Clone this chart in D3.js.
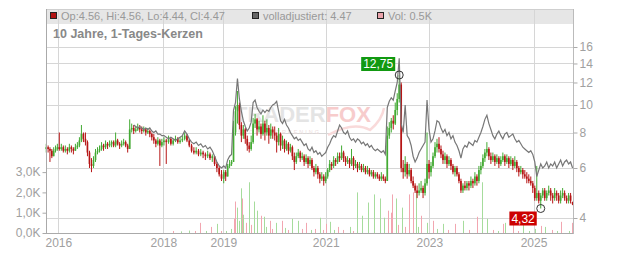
<!DOCTYPE html>
<html>
<head>
<meta charset="utf-8">
<script src="https://cdn.jsdelivr.net/npm/d3@7"></script>
<style>
  body { margin: 0; background: #fff; }
  svg { display: block; font-family: "Liberation Sans", Arial, sans-serif; }
</style>
</head>
<body>
<svg id="chart" width="632" height="253"></svg>
<script>
// one candle per two weeks, starting 2015-10-02: [open, high, low, close]
const candles2015 = [[7.0,7.3,6.8,7.1],[7.1,7.2,6.8,7.0],[7.0,7.1,6.3,6.9],[6.9,7.0,6.5,6.6],[6.6,7.1,6.6,6.9],[6.9,7.2,6.8,7.0],[7.0,7.3,6.9,7.1]]
const candles2016 = [[7.1,8.0,6.9,7.0],[7.0,7.3,6.9,7.1],[7.1,7.2,6.8,6.9],[6.9,7.2,6.8,7.0],[7.0,7.1,6.7,6.9],[6.9,7.3,6.8,7.1],[7.1,7.2,6.8,7.0],[7.0,7.1,6.7,6.9],[6.9,7.3,6.9,7.1],[7.1,7.4,7.0,7.2],[7.2,7.7,7.1,7.5],[7.5,8.5,7.4,7.9],[7.9,8.0,7.4,7.6],[7.6,8.0,7.2,7.4],[7.4,7.5,6.6,6.8],[6.8,6.9,6.0,6.2],[6.2,6.5,5.8,6.1],[6.1,6.6,6.0,6.4],[6.4,7.0,6.3,6.8],[6.8,7.1,6.7,6.9],[6.9,7.2,6.8,7.0],[7.0,7.4,6.9,7.2],[7.2,7.3,6.9,7.1],[7.1,7.5,7.0,7.3],[7.3,7.4,7.0,7.2],[7.2,7.5,7.1,7.3]]
const candles2017 = [[7.3,7.5,7.1,7.4],[7.4,7.5,7.1,7.2],[7.2,8.0,7.1,7.5],[7.5,7.6,7.2,7.3],[7.3,7.4,7.0,7.2],[7.2,7.5,7.1,7.3],[7.3,7.6,7.2,7.4],[7.4,7.5,7.1,7.2],[7.2,7.3,6.8,7.0],[7.0,8.9,7.0,8.2],[8.2,8.6,8.0,8.3],[8.3,8.5,7.9,8.1],[8.1,8.4,8.0,8.2],[8.2,8.6,8.1,8.3],[8.3,8.5,8.0,8.2],[8.2,8.4,7.9,8.1],[8.1,8.4,8.0,8.2],[8.2,8.3,7.8,8.0],[8.0,8.3,7.9,8.1],[8.1,8.2,7.7,7.9],[7.9,8.0,7.5,7.7],[7.7,7.9,7.3,7.5],[7.5,7.6,7.1,7.3],[7.3,7.7,7.2,7.5],[7.5,7.6,6.1,7.2],[7.2,7.6,7.1,7.4]]
const candles2018 = [[7.4,7.7,7.2,7.5],[7.5,7.6,6.2,7.4],[7.4,7.8,7.3,7.6],[7.6,7.7,7.2,7.3],[7.3,7.6,7.2,7.5],[7.5,7.8,7.4,7.6],[7.6,7.7,7.3,7.4],[7.4,7.7,7.3,7.5],[7.5,7.8,7.4,7.6],[7.6,8.0,7.5,7.8],[7.8,7.9,7.4,7.5],[7.5,7.6,7.1,7.2],[7.2,7.3,6.8,6.9],[6.9,7.1,6.7,6.8],[6.8,7.1,6.7,6.9],[6.9,7.0,6.6,6.7],[6.7,7.0,6.6,6.8],[6.8,6.9,6.5,6.7],[6.7,6.8,6.4,6.6],[6.6,6.9,6.5,6.7],[6.7,6.8,6.4,6.5],[6.5,6.7,6.3,6.6],[6.6,6.6,6.1,6.2],[6.2,6.3,5.8,6.0],[6.0,6.1,5.6,5.7],[5.7,5.9,5.4,5.5]]
const candles2019 = [[5.5,5.9,5.3,5.8],[5.8,5.9,5.4,5.6],[5.6,6.2,5.6,6.1],[6.1,6.4,6.0,6.2],[6.2,6.4,6.1,6.3],[6.3,8.8,6.3,8.0],[8.0,9.9,7.8,9.5],[9.5,11.2,8.6,10.0],[10.0,10.2,8.2,8.5],[8.5,8.7,7.4,7.8],[7.8,8.5,7.6,8.2],[8.2,8.3,7.3,7.6],[7.6,7.8,6.9,7.2],[7.2,7.4,6.8,7.0],[7.0,7.8,6.9,7.4],[7.4,9.0,7.3,8.6],[8.6,9.3,8.3,8.9],[8.9,9.0,7.8,8.2],[8.2,8.8,8.0,8.4],[8.4,8.6,7.6,7.9],[7.9,9.2,7.8,8.6],[8.6,8.8,7.5,8.0],[8.0,8.9,7.8,8.3],[8.3,8.5,7.3,7.8],[7.8,8.6,7.6,8.2],[8.2,8.4,7.6,8.0]]
const candles2020 = [[8.0,8.4,7.5,7.8],[7.8,8.0,6.8,7.4],[7.4,8.3,7.2,7.9],[7.9,8.0,6.9,7.2],[7.2,7.8,7.0,7.5],[7.5,7.6,6.8,7.0],[7.0,7.5,6.9,7.3],[7.3,7.4,6.7,6.9],[6.9,7.3,6.8,7.1],[7.1,7.2,6.4,6.6],[6.6,6.8,5.9,6.3],[6.3,6.8,6.2,6.6],[6.6,7.0,6.5,6.8],[6.8,6.9,6.3,6.5],[6.5,6.8,6.4,6.6],[6.6,6.7,6.1,6.3],[6.3,6.7,6.2,6.5],[6.5,6.6,6.0,6.2],[6.2,6.6,6.1,6.4],[6.4,6.5,5.9,6.0],[6.0,6.1,5.6,5.8],[5.8,6.2,5.7,6.0],[6.0,6.1,5.5,5.7],[5.7,5.8,5.3,5.5],[5.5,5.8,5.4,5.6],[5.6,5.7,5.2,5.4]]
const candles2021 = [[5.4,5.8,5.3,5.6],[5.6,6.0,5.5,5.9],[5.9,6.4,5.8,6.2],[6.2,6.3,5.9,6.1],[6.1,6.6,6.0,6.4],[6.4,6.5,6.1,6.3],[6.3,6.8,6.2,6.6],[6.6,6.8,6.3,6.5],[6.5,7.2,6.4,6.8],[6.8,6.9,6.3,6.5],[6.5,6.6,6.1,6.3],[6.3,6.6,6.2,6.4],[6.4,6.5,6.0,6.2],[6.2,7.0,6.1,6.5],[6.5,6.6,5.9,6.1],[6.1,6.4,6.0,6.2],[6.2,6.3,5.8,6.0],[6.0,6.3,5.9,6.1],[6.1,6.2,5.8,5.9],[5.9,6.2,5.8,6.0],[6.0,6.1,5.7,5.8],[5.8,6.1,5.7,5.9],[5.9,6.0,5.6,5.7],[5.7,5.9,5.6,5.8],[5.8,5.9,5.5,5.6],[5.6,5.8,5.5,5.7]]
const candles2022 = [[5.7,5.8,5.5,5.6],[5.6,5.7,5.4,5.5],[5.5,5.8,5.4,5.6],[5.6,5.7,5.4,5.5],[5.5,5.6,5.3,5.4],[5.4,8.4,5.4,7.8],[7.8,8.7,7.6,8.3],[8.3,9.0,8.0,8.8],[8.8,9.2,8.2,8.6],[8.6,10.2,8.5,9.6],[9.6,11.0,9.2,10.5],[10.5,12.75,10.2,11.8],[11.8,12.0,5.8,6.0],[6.0,6.4,5.5,5.8],[5.8,6.6,5.6,6.2],[6.2,6.3,5.5,5.7],[5.7,6.2,5.6,5.9],[5.9,6.0,5.3,5.4],[5.4,5.6,5.1,5.2],[5.2,5.3,4.9,5.0],[5.0,5.2,4.7,4.9],[4.9,5.3,4.8,5.0],[5.0,5.4,4.9,5.1],[5.1,5.2,4.7,4.9],[4.9,5.5,4.8,5.3],[5.3,8.0,5.2,6.2]]
const candles2023 = [[6.2,6.4,5.5,5.8],[5.8,6.3,5.6,6.1],[6.1,6.8,6.0,6.6],[6.6,7.4,6.5,7.1],[7.1,7.6,6.8,7.3],[7.3,7.7,6.8,7.0],[7.0,7.2,6.5,6.7],[6.7,6.9,6.2,6.4],[6.4,6.8,6.2,6.6],[6.6,6.7,6.0,6.2],[6.2,6.6,6.1,6.4],[6.4,6.5,5.9,6.1],[6.1,6.2,5.7,5.8],[5.8,6.1,5.6,6.0],[6.0,6.1,5.6,5.7],[5.7,5.8,5.3,5.4],[5.4,5.5,4.9,5.0],[5.0,5.3,4.9,5.2],[5.2,5.4,5.0,5.1],[5.1,5.4,5.0,5.3],[5.3,5.4,5.0,5.2],[5.2,5.6,5.1,5.4],[5.4,5.5,5.1,5.3],[5.3,5.8,5.2,5.6],[5.6,5.7,5.2,5.4],[5.4,6.1,5.3,5.9]]
const candles2024 = [[5.9,6.3,5.7,6.1],[6.1,6.7,6.0,6.5],[6.5,7.0,6.3,6.8],[6.8,7.4,6.6,7.0],[7.0,7.1,6.4,6.6],[6.6,6.8,6.2,6.4],[6.4,6.8,6.3,6.6],[6.6,6.7,6.1,6.3],[6.3,6.7,6.2,6.5],[6.5,6.6,6.0,6.2],[6.2,6.6,6.1,6.4],[6.4,6.8,6.3,6.6],[6.6,6.7,6.1,6.3],[6.3,6.7,6.2,6.5],[6.5,6.6,6.0,6.2],[6.2,6.6,6.1,6.4],[6.4,6.5,5.9,6.1],[6.1,6.6,6.0,6.3],[6.3,6.4,5.8,6.0],[6.0,6.1,5.6,5.8],[5.8,6.1,5.7,5.9],[5.9,6.0,5.5,5.7],[5.7,5.9,5.5,5.6],[5.6,5.8,5.3,5.5],[5.5,5.7,5.3,5.4],[5.4,5.6,5.2,5.3]]
const candles2025 = [[5.3,5.4,4.9,5.1],[5.1,5.2,4.6,4.7],[4.7,6.1,4.6,4.9],[4.9,5.0,4.5,4.6],[4.6,4.9,4.32,4.8],[4.8,5.1,4.7,5.0],[5.0,5.1,4.6,4.7],[4.7,5.0,4.6,4.9],[4.9,5.2,4.8,5.0],[5.0,5.1,4.6,4.8],[4.8,4.9,4.5,4.7],[4.7,5.1,4.6,4.9],[4.9,5.0,4.6,4.8],[4.8,4.9,4.5,4.6],[4.6,5.0,4.5,4.8],[4.8,5.1,4.7,4.9],[4.9,5.0,4.6,4.7],[4.7,4.8,4.5,4.6],[4.6,4.9,4.5,4.8],[4.8,4.9,4.5,4.6],[4.56,4.56,4.44,4.47]]

// "volladjustiert" line, same two-week steps, begins mid 2017
const adjusted2017 = [8.5,8.4,8.3,8.4,8.3,8.2,8.3,8.2,8.3,8.1,8.0,8.1,7.9,7.9,7.8]
const adjusted2018 = [7.8,7.7,7.6,7.7,7.6,7.5,7.6,7.7,7.8,8.1,7.9,7.6,7.4,7.3,7.4,7.2,7.3,7.1,7.2,7.0,7.1,6.9,6.6,6.3,6.1,6.0]
const adjusted2019 = [6.1,6.0,6.4,6.6,6.7,9.6,10.2,12.4,10.5,9.5,8.8,8.4,8.1,8.3,8.7,10.2,10.4,9.8,9.5,9.3,9.6,9.4,9.6,9.5,9.8,10.0]
const adjusted2020 = [10.1,10.3,9.5,8.8,8.6,8.9,8.5,8.3,8.0,7.8,7.6,7.7,7.5,7.6,7.4,7.2,7.3,7.0,6.9,7.1,6.8,6.9,6.7,6.8,6.6,6.7]
const adjusted2021 = [6.8,7.1,7.3,7.6,7.8,7.7,8.1,8.5,8.3,8.0,7.9,8.1,7.7,7.5,7.6,7.4,7.6,7.5,7.3,7.4,7.2,7.3,7.1,7.2,7.0,6.9]
const adjusted2022 = [7.0,6.9,6.8,6.9,6.7,9.8,10.3,10.6,10.4,11.2,12.0,14.6,8.6,8.0,10.0,7.8,7.6,7.2,6.6,6.3,6.5,6.8,7.0,7.2,7.4,10.4]
const adjusted2023 = [8.2,7.4,7.6,8.1,8.8,8.7,8.3,8.0,8.2,7.8,8.0,7.6,7.8,7.4,7.2,6.9,6.5,7.0,7.2,7.1,7.4,7.3,7.2,7.5,7.4,7.7]
const adjusted2024 = [8.0,8.4,8.9,9.2,8.6,8.2,7.8,7.6,7.9,8.1,7.8,7.6,7.9,8.0,7.7,7.8,7.9,7.6,7.4,7.5,7.3,7.1,7.0,6.9,6.8,6.9]
const adjusted2025 = [6.7,6.3,5.6,5.9,6.2,6.0,6.1,6.3,6.0,6.2,6.1,6.3,6.0,6.2,6.4,6.1,6.3,6.4,6.2,6.3,6.0]

// volume in thousands: [day, volume, 1 = up day]
const volumes = [
  ['2018-03-01',0.1,0],['2018-04-20',0.08,1],['2018-06-08',0.12,1],['2018-07-10',0.1,0],['2018-08-12',0.5,0],['2018-09-15',0.1,1],['2018-10-19',0.3,0],['2018-11-24',0.45,1],['2018-12-20',0.1,0],
  ['2019-01-20',0.1,1],['2019-02-28',0.2,1],['2019-03-15',0.7,0],['2019-03-28',1.55,0],['2019-04-11',1.25,1],['2019-04-25',0.6,1],['2019-05-10',2.2,1],['2019-05-18',1.7,0],['2019-05-24',0.9,1],['2019-06-10',0.5,0],['2019-07-01',2.5,1],['2019-07-20',0.4,0],['2019-08-10',1.55,1],['2019-09-02',1.1,1],['2019-09-25',0.85,0],['2019-10-15',0.8,1],['2019-11-05',0.3,1],['2019-11-27',0.6,0],['2019-12-15',0.2,0],
  ['2020-01-10',0.5,1],['2020-02-22',0.6,0],['2020-03-20',0.25,1],['2020-04-10',0.15,0],['2020-05-05',0.7,1],['2020-06-17',0.6,1],['2020-07-15',0.2,0],['2020-08-13',0.5,0],['2020-09-20',0.15,1],['2020-10-15',0.2,0],['2020-11-21',0.75,1],['2020-12-10',0.15,0],
  ['2021-01-04',0.45,0],['2021-02-01',0.55,1],['2021-03-01',0.15,1],['2021-03-29',0.3,0],['2021-05-05',0.15,0],['2021-06-22',0.3,1],['2021-07-15',0.1,0],['2021-08-10',2.0,1],['2021-09-16',0.85,1],['2021-10-29',1.5,1],['2021-12-04',1.9,1],
  ['2022-01-16',1.7,1],['2022-02-19',0.75,1],['2022-03-18',1.1,0],['2022-04-08',1.0,0],['2022-04-16',1.9,0],['2022-05-14',1.7,1],['2022-05-28',0.4,0],['2022-06-26',1.25,1],['2022-07-15',0.3,0],['2022-08-08',1.9,0],['2022-09-06',2.0,0],['2022-09-26',2.0,1],['2022-10-15',0.3,1],['2022-11-01',0.85,0],['2022-12-14',0.5,1],
  ['2023-01-25',0.6,0],['2023-02-25',0.2,1],['2023-04-06',0.45,1],['2023-05-10',0.15,0],['2023-06-29',0.45,0],['2023-08-24',0.6,1],['2023-10-10',0.15,0],['2023-12-01',0.8,0],
  ['2024-01-04',2.5,1],['2024-02-10',0.7,1],['2024-03-20',0.15,0],['2024-04-25',0.1,1],['2024-06-02',0.45,0],['2024-06-16',0.5,1],['2024-08-12',0.9,0],['2024-09-15',0.1,0],['2024-10-22',0.45,1],['2024-12-01',0.1,1],
  ['2025-01-15',0.2,1],['2025-02-26',0.35,0],['2025-03-26',0.3,1],['2025-05-10',0.15,0],['2025-06-15',0.1,1],['2025-07-17',0.55,0],['2025-09-10',0.1,1],['2025-10-01',0.5,0]
]

const priceTicks = [4, 6, 8, 10, 12, 14, 16]
const volTicks = [0, 1, 2, 3]
const yearTicks = [2016, 2018, 2019, 2021, 2023, 2025]

const candles = [].concat(candles2015, candles2016, candles2017, candles2018, candles2019,
  candles2020, candles2021, candles2022, candles2023, candles2024, candles2025)
const adjusted = [].concat(adjusted2017, adjusted2018, adjusted2019, adjusted2020, adjusted2021,
  adjusted2022, adjusted2023, adjusted2024, adjusted2025)

const firstDay = new Date(2015, 9, 2)
const dayOf = i => d3.timeDay.offset(firstDay, i * 14)
const parseDay = d3.timeParse('%Y-%m-%d')

const plotLeft = 46, plotRight = 573, plotTop = 9, plotBottom = 233

const svg = d3.select('#chart')

// the time axis of the source is trading-day based, so the years are not evenly spaced
const x = d3.scaleTime()
  .domain([new Date(2015, 8, 30), new Date(2016, 0, 1), new Date(2018, 0, 1), new Date(2019, 0, 1),
    new Date(2021, 0, 1), new Date(2023, 0, 1), new Date(2025, 0, 1), new Date(2025, 9, 6)])
  .range([plotLeft, 58.3, 163.3, 223.3, 325.7, 429.3, 533.5, plotRight])

const y = d3.scaleLog().domain([4, 16]).range([218, 47])
const yVol = d3.scaleLinear().domain([0, 10]).range([plotBottom, 30])

// header bar
svg.append('rect')
  .attr('x', plotLeft).attr('y', plotTop).attr('width', plotRight - plotLeft).attr('height', 15)
  .attr('fill', '#e6e6e6')

// grid
svg.append('g').selectAll('line')
  .data(yearTicks)
  .enter()
  .append('line')
  .attr('x1', d => Math.round(x(new Date(d, 0, 1))) + 0.5)
  .attr('x2', d => Math.round(x(new Date(d, 0, 1))) + 0.5)
  .attr('y1', plotTop).attr('y2', plotBottom)
  .attr('stroke', '#d6d6d6')

svg.append('g').selectAll('line')
  .data(priceTicks)
  .enter()
  .append('line')
  .attr('x1', plotLeft).attr('x2', plotRight)
  .attr('y1', d => Math.round(y(d)) + 0.5)
  .attr('y2', d => Math.round(y(d)) + 0.5)
  .attr('stroke', '#d6d6d6')

// watermark
const wm = svg.append('text')
  .attr('x', 234).attr('y', 122)
  .attr('font-size', 22).attr('font-weight', 'bold')
wm.append('tspan').attr('fill', '#e4e4e4').text('TRADER')
wm.append('tspan').attr('fill', '#f7cccc').text('FOX')
svg.append('text')
  .attr('x', 238).attr('y', 134)
  .attr('font-size', 5.5).attr('letter-spacing', 2)
  .attr('fill', '#ecdcdc')
  .text('STOCK SCREENING')
svg.append('path')
  .attr('d', 'M328,135 Q354,121 370,130 Q382,120 384,108')
  .attr('fill', 'none').attr('stroke', '#f9dada').attr('stroke-width', 2.5)

// volume
svg.append('g').selectAll('line')
  .data(volumes)
  .enter()
  .append('line')
  .attr('x1', d => Math.round(x(parseDay(d[0]))) + 0.5)
  .attr('x2', d => Math.round(x(parseDay(d[0]))) + 0.5)
  .attr('y1', plotBottom)
  .attr('y2', d => yVol(d[1]))
  .attr('stroke', d => d[2] ? '#a6dc9c' : '#f2a6b0')

// candles
const step = x(dayOf(1)) - x(dayOf(0))
const cg = svg.append('g')
cg.selectAll('line')
  .data(candles)
  .enter()
  .append('line')
  .attr('x1', (d, i) => x(dayOf(i)))
  .attr('x2', (d, i) => x(dayOf(i)))
  .attr('y1', d => y(d[1]))
  .attr('y2', d => y(d[2]))
  .attr('stroke', d => d[3] >= d[0] ? '#43aa33' : '#b61515')
  .attr('stroke-width', 1)

cg.selectAll('rect')
  .data(candles)
  .enter()
  .append('rect')
  .attr('x', (d, i) => x(dayOf(i)) - step * 0.45)
  .attr('width', step * 0.9)
  .attr('y', d => y(Math.max(d[0], d[3])))
  .attr('height', d => Math.max(1, Math.abs(y(d[0]) - y(d[3]))))
  .attr('fill', d => d[3] >= d[0] ? '#43aa33' : '#b61515')

// adjusted price line
const offset = candles.length - adjusted.length
svg.append('path')
  .datum(adjusted)
  .attr('fill', 'none')
  .attr('stroke', '#777')
  .attr('stroke-width', 1.2)
  .attr('d', d3.line().x((d, i) => x(dayOf(i + offset))).y(d => y(d)))

// frame and axes
svg.append('rect')
  .attr('x', plotLeft + 0.5).attr('y', plotTop + 0.5)
  .attr('width', plotRight - plotLeft).attr('height', plotBottom - plotTop)
  .attr('fill', 'none').attr('stroke', '#cfcfcf')
svg.append('line')
  .attr('x1', plotLeft + 0.5).attr('x2', plotLeft + 0.5).attr('y1', plotTop).attr('y2', plotBottom + 1)
  .attr('stroke', '#aaa')
svg.append('line')
  .attr('x1', plotLeft).attr('x2', plotRight + 1).attr('y1', plotBottom + 0.5).attr('y2', plotBottom + 0.5)
  .attr('stroke', '#aaa')
svg.append('line')
  .attr('x1', plotRight + 0.5).attr('x2', plotRight + 0.5).attr('y1', plotTop).attr('y2', plotBottom + 1)
  .attr('stroke', '#bbb')

const comma = v => d3.format('.1f')(v).replace('.', ',')

const yAxisRight = svg.append('g')
  .attr('transform', `translate(${plotRight + 0.5},0)`)
  .call(d3.axisRight(y).tickValues(priceTicks).tickFormat(d3.format('d')).tickSize(4).tickPadding(2))
const yAxisLeft = svg.append('g')
  .attr('transform', `translate(${plotLeft + 0.5},0)`)
  .call(d3.axisLeft(yVol).tickValues(volTicks).tickFormat(d => comma(d) + 'K').tickSize(4).tickPadding(2))
const xAxis = svg.append('g')
  .attr('transform', `translate(0,${plotBottom + 0.5})`)
  .call(d3.axisBottom(x).tickValues(yearTicks.map(d => new Date(d, 0, 1))).tickFormat(d3.timeFormat('%Y')).tickSize(0).tickPadding(5))

;[yAxisRight, yAxisLeft, xAxis].forEach(a => {
  a.select('.domain').remove()
  a.selectAll('line').attr('stroke', '#aaa')
  a.selectAll('text').attr('fill', '#a0a0a0').attr('font-size', 12)
    .attr('font-family', '"Liberation Sans", Arial, sans-serif')
})

// high / low markers
const hiIdx = d3.maxIndex(candles, d => d[1])
const loIdx = d3.minIndex(candles, d => d[2])
const price = v => d3.format('.2f')(v).replace('.', ',')

function marker(idx, value, color, above) {
  const cx = x(dayOf(idx)), cy = y(value)
  const g = svg.append('g')
  const label = g.append('text')
    .attr('font-size', 12).attr('fill', '#fff')
    .text(price(value))
  const w = label.node().getComputedTextLength() + 4
  const h = 14
  const bx = cx - 4 - w
  const by = above ? cy - 4 - h : cy + 3
  g.insert('rect', 'text')
    .attr('x', bx).attr('y', by).attr('width', w).attr('height', h)
    .attr('fill', color)
  label.attr('x', bx + 2).attr('y', by + 11)
  svg.append('circle')
    .attr('cx', cx).attr('cy', cy).attr('r', 4)
    .attr('fill', 'none').attr('stroke', '#333').attr('stroke-width', 1)
}
marker(hiIdx, candles[hiIdx][1], '#119911', true)
marker(loIdx, candles[loIdx][2], '#cc0000', false)

// header legend
const last = candles[candles.length - 1]
const lastVol = volumes[volumes.length - 1][1]
const legend = [
  { x: 50, fill: '#b01212', text: `Op:${last[0].toFixed(2)}, Hi:${last[1].toFixed(2)}, Lo:${last[2].toFixed(2)}, Cl:${last[3].toFixed(2)}` },
  { x: 252, fill: '#666', text: `volladjustiert: ${last[3].toFixed(2)}` },
  { x: 377, fill: '#eaa3ab', text: `Vol: ${lastVol.toFixed(1)}K` }
]
const lg = svg.append('g').selectAll('g')
  .data(legend)
  .enter()
  .append('g')
lg.append('rect')
  .attr('x', d => d.x + 0.5).attr('y', 12.5).attr('width', 6).attr('height', 6)
  .attr('fill', d => d.fill).attr('stroke', '#222')
lg.append('text')
  .attr('x', d => d.x + 11).attr('y', 20)
  .attr('font-size', 11).attr('fill', '#999')
  .text(d => d.text)

svg.append('text')
  .attr('x', 53).attr('y', 38)
  .attr('font-size', 12.5).attr('font-weight', 'bold').attr('fill', '#888')
  .text('10 Jahre, 1-Tages-Kerzen')
</script>
</body>
</html>
